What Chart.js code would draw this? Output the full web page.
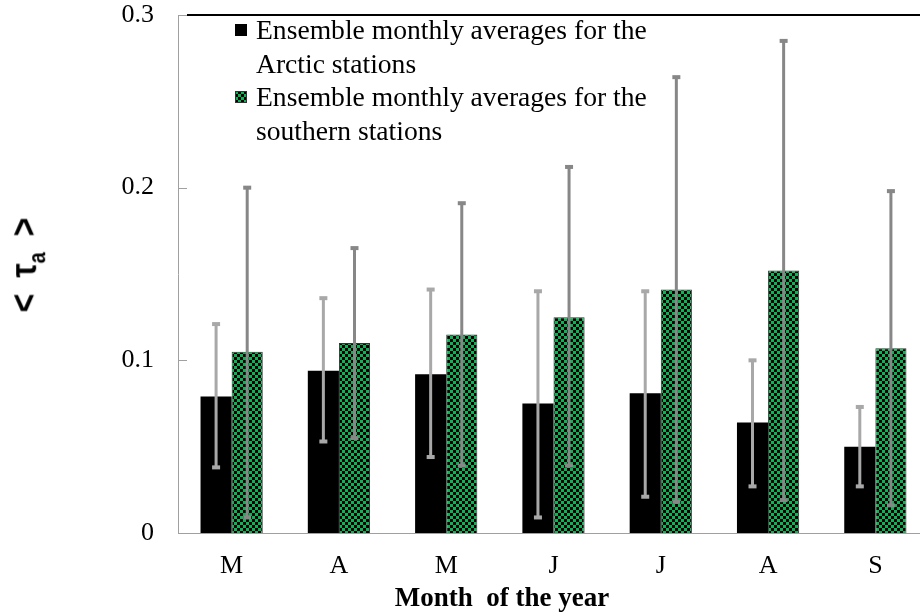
<!DOCTYPE html>
<html>
<head>
<meta charset="utf-8">
<script src="https://cdn.jsdelivr.net/npm/chart.js@4"></script>
<style>
  html, body { margin: 0; padding: 0; background: #fff; overflow: hidden; }
  #wrap { position: relative; width: 945px; height: 613px; }
  #legend {
    position: absolute; left: 235px; top: 13px;
    font-family: "Liberation Serif", "Times New Roman", serif;
    font-size: 27.6px; line-height: 33.5px; color: #000;
  }
  .item { position: relative; padding-left: 21px; white-space: nowrap; }
  .item canvas { position: absolute; left: 0; top: 11px; }
  #ylabel {
    position: absolute; left: 27px; top: 265px;
    transform: translate(-50%, -50%) rotate(-90deg) scale(1, 1.15);
    font-family: "Liberation Sans", Arial, sans-serif; font-weight: bold;
    font-size: 32px; white-space: nowrap; color: #000;
  }
  #ylabel span { display: inline-block; margin: 0 8px; }
  #ylabel sub { font-size: 20px; }
  #xtitle {
    position: absolute; left: 502px; top: 597px;
    transform: translate(-50%, -50%);
    font-family: "Liberation Serif", "Times New Roman", serif; font-weight: bold;
    font-size: 27px; white-space: pre; color: #000;
  }
</style>
</head>
<body>
<div id="wrap">
  <canvas id="chart"></canvas>
  <div id="legend"></div>
  <div id="ylabel"><span>&lt;</span><span>τ<sub>a</sub></span><span>&gt;</span></div>
  <div id="xtitle"></div>
</div>
<script>
// Data
const months = ['M', 'A', 'M', 'J', 'J', 'A', 'S'];
const xTitle = 'Month  of the year';
const seriesNames = [
    ['Ensemble monthly averages for the', 'Arctic stations'],
    ['Ensemble monthly averages for the', 'southern stations']
];
const arctic = [0.079, 0.094, 0.092, 0.075, 0.081, 0.064, 0.050];
const southern = [0.105, 0.110, 0.115, 0.125, 0.141, 0.152, 0.107];
const arcticLow = [0.038, 0.053, 0.044, 0.009, 0.021, 0.027, 0.027];
const arcticHigh = [0.121, 0.136, 0.141, 0.140, 0.140, 0.100, 0.073];
const southernLow = [0.009, 0.055, 0.039, 0.039, 0.018, 0.019, 0.016];
const southernHigh = [0.200, 0.165, 0.191, 0.212, 0.264, 0.285, 0.198];
const yTicks = [0, 0.1, 0.2, 0.3];

document.getElementById('xtitle').textContent = xTitle;

// Green / black checkerboard fill
function makeChecker() {
    const c = document.createElement('canvas');
    c.width = 6; c.height = 6;
    const g = c.getContext('2d');
    g.fillStyle = '#000';
    g.fillRect(0, 0, 6, 6);
    g.fillStyle = '#0cb553';
    g.fillRect(0, 0, 3, 3);
    g.fillRect(3, 3, 3, 3);
    return g.createPattern(c, 'repeat');
}
const checker = makeChecker();

// Legend (HTML, labels wrap on two lines)
const legend = document.getElementById('legend');
[['#000', null], [checker, '#333']].forEach(([fill, border], i) => {
    const item = document.createElement('div');
    item.className = 'item';
    const sw = document.createElement('canvas');
    sw.width = 12; sw.height = 12;
    const g = sw.getContext('2d');
    g.fillStyle = fill;
    g.fillRect(0, 0, 12, 12);
    if (border) { g.strokeStyle = border; g.strokeRect(0.5, 0.5, 11, 11); }
    item.appendChild(sw);
    item.insertAdjacentHTML('beforeend', seriesNames[i].join('<br>'));
    legend.appendChild(item);
});

// Error bars, inner y ticks and top frame line
const errorBars = {
    id: 'errorBars',
    afterDatasetsDraw(chart) {
        const { ctx, chartArea, scales: { y } } = chart;
        ctx.save();
        [[0, arcticLow, arcticHigh, '#a8a8a8'], [1, southernLow, southernHigh, '#878787']].forEach(([i, lo, hi, color]) => {
            chart.getDatasetMeta(i).data.forEach((bar, j) => {
                const top = y.getPixelForValue(hi[j]);
                const bot = y.getPixelForValue(lo[j]);
                ctx.strokeStyle = color;
                ctx.lineWidth = 3;
                ctx.beginPath();
                ctx.moveTo(bar.x, top);
                ctx.lineTo(bar.x, bot);
                ctx.stroke();
                ctx.fillStyle = color;
                ctx.fillRect(bar.x - 4, top - 2, 8, 4);
                ctx.fillRect(bar.x - 4, bot - 2, 8, 4);
            });
        });
        ctx.strokeStyle = '#a0a0a0';
        ctx.lineWidth = 1;
        yTicks.forEach(v => {
            const py = Math.round(y.getPixelForValue(v)) + 0.5;
            ctx.beginPath();
            ctx.moveTo(chartArea.left, py);
            ctx.lineTo(chartArea.left + 9, py);
            ctx.stroke();
        });
        ctx.strokeStyle = '#000';
        ctx.lineWidth = 2;
        ctx.beginPath();
        ctx.moveTo(chartArea.left + 9, chartArea.top);
        ctx.lineTo(chartArea.right, chartArea.top);
        ctx.stroke();
        ctx.restore();
    }
};

new Chart(document.getElementById('chart'), {
    type: 'bar',
    data: {
        labels: months,
        datasets: [{
            label: seriesNames[0].join(' '),
            data: arctic,
            backgroundColor: '#000',
            borderWidth: 0
        }, {
            label: seriesNames[1].join(' '),
            data: southern,
            backgroundColor: checker,
            borderColor: '#333',
            borderWidth: 1
        }]
    },
    options: {
        responsive: true,
        maintainAspectRatio: false,
        animation: false,
        layout: { padding: { top: 15, right: 16, bottom: 0, left: 0 } },
        plugins: { legend: { display: false }, tooltip: { enabled: false } },
        datasets: { bar: { categoryPercentage: 0.58, barPercentage: 1 } },
        scales: {
            x: {
                grid: { display: false, drawTicks: false },
                border: { color: '#a0a0a0', width: 1 },
                ticks: {
                    color: '#000', padding: 18,
                    font: { family: '"Liberation Serif", serif', size: 26 }
                },
                afterFit(scale) { scale.height = 80; }
            },
            y: {
                min: 0, max: 0.3,
                grid: { display: false, drawTicks: false },
                border: { color: '#a0a0a0', width: 1 },
                afterBuildTicks(scale) { scale.ticks = yTicks.map(v => ({ value: v })); },
                ticks: {
                    color: '#000', padding: 24,
                    font: { family: '"Liberation Serif", serif', size: 26 },
                    callback: v => v === 0 ? '0' : v.toFixed(1)
                },
                afterFit(scale) {
                    scale.width = 178;
                    scale.paddingTop = 0;
                    scale.paddingBottom = 0;
                }
            }
        }
    },
    plugins: [errorBars]
});
</script>
</body>
</html>
